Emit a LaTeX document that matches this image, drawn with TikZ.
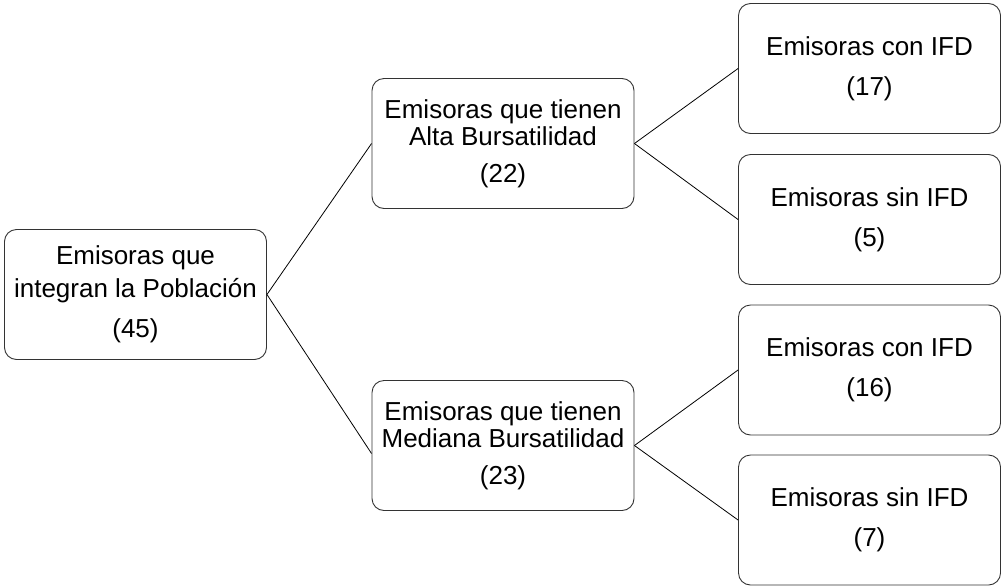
\documentclass[tikz,border=0pt]{standalone}
\usepackage{fontspec}
\setmainfont{Liberation Sans}
\begin{document}
\begin{tikzpicture}[x=1pt,y=-1pt,
  box/.style={draw=black!80, line width=0.9pt, rounded corners=12pt,
    minimum width=262pt, minimum height=130pt, align=center, inner sep=0pt,
    font=\fontsize{26}{27}\selectfont},
  link/.style={draw=black, line width=0.8pt}]
\useasboundingbox (0,0) rectangle (1003,587);
\node[box] (root) at (135.5,294.5) {Emisoras que\\[6pt]integran la Población\\[13pt](45)};
\node[box] (alta) at (503,143.5) {Emisoras que tienen\\Alta Bursatilidad\\[10pt](22)};
\node[box] (med) at (503,445.5) {Emisoras que tienen\\Mediana Bursatilidad\\[10pt](23)};
\node[box] (a1) at (869.5,68.5) {Emisoras con IFD\\[13pt](17)};
\node[box] (a2) at (869.5,219.5) {Emisoras sin IFD\\[13pt](5)};
\node[box] (m1) at (869.5,370) {Emisoras con IFD\\[13pt](16)};
\node[box] (m2) at (869.5,520) {Emisoras sin IFD\\[13pt](7)};
\draw[link] (root.east) -- (alta.west);
\draw[link] (root.east) -- ([yshift=-8pt]med.west);
\draw[link] (alta.east) -- (a1.west);
\draw[link] (alta.east) -- (a2.west);
\draw[link] (med.east) -- (m1.west);
\draw[link] (med.east) -- (m2.west);
\end{tikzpicture}
\end{document}
